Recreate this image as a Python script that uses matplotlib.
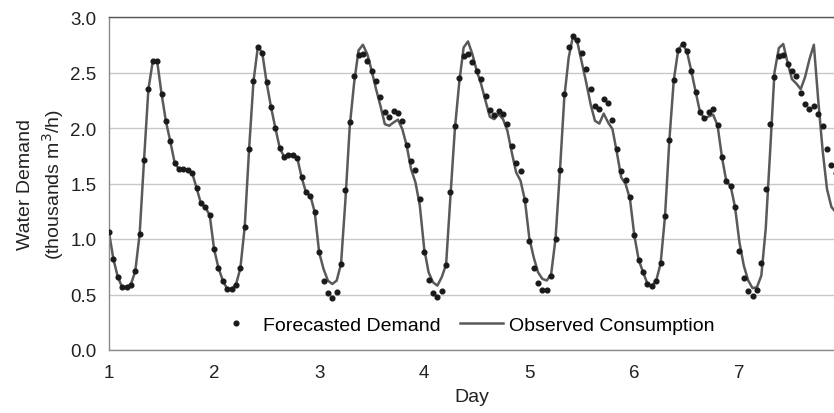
import numpy as np
import matplotlib
matplotlib.use("Agg")
import matplotlib.pyplot as plt

plt.rcParams['font.family'] = ['Liberation Sans', 'DejaVu Sans']

# Hourly values, hour 0 = start of day 1
forecast = [
    # day 1
    1.06, 0.82, 0.66, 0.565, 0.565, 0.59, 0.71, 1.045, 1.71, 2.35, 2.60, 2.60,
    2.31, 2.06, 1.88, 1.685, 1.63, 1.63, 1.62, 1.595, 1.46, 1.32, 1.285, 1.215,
    # day 2
    0.91, 0.74, 0.625, 0.55, 0.55, 0.59, 0.735, 1.11, 1.81, 2.42, 2.73, 2.68,
    2.41, 2.19, 2.00, 1.82, 1.74, 1.76, 1.76, 1.73, 1.555, 1.42, 1.39, 1.24,
    # day 3
    0.88, 0.625, 0.515, 0.47, 0.525, 0.775, 1.445, 2.05, 2.47, 2.655, 2.67, 2.60,
    2.51, 2.42, 2.275, 2.145, 2.10, 2.15, 2.135, 2.06, 1.85, 1.70, 1.625, 1.36,
    # day 4
    0.88, 0.635, 0.515, 0.475, 0.53, 0.77, 1.42, 2.02, 2.446, 2.645, 2.665, 2.595,
    2.515, 2.44, 2.287, 2.16, 2.116, 2.15, 2.125, 2.04, 1.837, 1.684, 1.61, 1.35,
    # day 5
    0.983, 0.74, 0.608, 0.54, 0.54, 0.67, 1.004, 1.62, 2.31, 2.728, 2.83, 2.794,
    2.674, 2.536, 2.35, 2.197, 2.173, 2.26, 2.224, 2.074, 1.807, 1.615, 1.535, 1.38,
    # day 6
    1.04, 0.815, 0.70, 0.596, 0.578, 0.626, 0.78, 1.205, 1.894, 2.43, 2.70, 2.758,
    2.69, 2.515, 2.326, 2.143, 2.086, 2.143, 2.167, 2.023, 1.74, 1.52, 1.475, 1.285,
    # day 7
    0.893, 0.65, 0.536, 0.485, 0.539, 0.782, 1.447, 2.04, 2.458, 2.65, 2.656, 2.578,
    2.518, 2.464, 2.314, 2.212, 2.167, 2.197, 2.125, 2.014, 1.813, 1.669, 1.594,
]

observed = [
    # day 1
    1.06, 0.82, 0.66, 0.565, 0.565, 0.59, 0.71, 1.045, 1.71, 2.35, 2.60, 2.60,
    2.31, 2.06, 1.88, 1.685, 1.63, 1.63, 1.62, 1.595, 1.46, 1.32, 1.285, 1.215,
    # day 2
    0.91, 0.74, 0.625, 0.55, 0.55, 0.59, 0.735, 1.11, 1.81, 2.42, 2.73, 2.68,
    2.41, 2.19, 2.00, 1.82, 1.74, 1.76, 1.76, 1.73, 1.555, 1.42, 1.39, 1.24,
    # day 3
    0.88, 0.73, 0.625, 0.595, 0.625, 0.776, 1.35, 2.02, 2.41, 2.70, 2.75, 2.665,
    2.515, 2.35, 2.20, 2.035, 2.02, 2.05, 2.075, 1.99, 1.84, 1.63, 1.51, 1.30,
    # day 4
    0.91, 0.70, 0.61, 0.58, 0.656, 0.77, 1.39, 1.99, 2.41, 2.725, 2.78, 2.665,
    2.515, 2.395, 2.245, 2.10, 2.08, 2.125, 2.08, 1.975, 1.78, 1.60, 1.525, 1.35,
    # day 5
    1.01, 0.836, 0.70, 0.64, 0.626, 0.686, 1.004, 1.615, 2.275, 2.635, 2.83, 2.77,
    2.59, 2.41, 2.215, 2.065, 2.04, 2.13, 2.05, 1.99, 1.78, 1.555, 1.495, 1.36,
    # day 6
    1.03, 0.81, 0.70, 0.596, 0.578, 0.626, 0.78, 1.205, 1.894, 2.43, 2.70, 2.758,
    2.69, 2.515, 2.326, 2.143, 2.086, 2.105, 2.12, 2.023, 1.74, 1.52, 1.475, 1.286,
    # day 7
    0.97, 0.76, 0.626, 0.557, 0.566, 0.67, 1.09, 1.78, 2.5, 2.72, 2.757, 2.59,
    2.44, 2.40, 2.35, 2.46, 2.62, 2.75, 2.25, 1.80, 1.45, 1.29, 1.24,
]

day_ticks = [1, 2, 3, 4, 5, 6, 7]
y_ticks = [0.0, 0.5, 1.0, 1.5, 2.0, 2.5, 3.0]

x_f = 1 + np.arange(len(forecast)) / 24.0
x_o = 1 + np.arange(len(observed)) / 24.0

fig = plt.figure(figsize=(8.34, 4.14), dpi=100)
ax = fig.add_axes([109/834, 63/414, 1 - 109/834, (351-18)/414])

ax.grid(axis='y', color='#c8c8c8', linewidth=1.0)
ax.set_axisbelow(True)

ax.plot(x_o, observed, color='#5a5a5a', linewidth=1.8, label='Observed Consumption', zorder=2)
ax.plot(x_f, forecast, linestyle='none', marker='o', markersize=3.4, color='#1a1a1a',
        label='Forecasted Demand', zorder=3)

ax.set_xlim(1, 7.9)
ax.set_ylim(0, 3.0)
ax.set_xticks(day_ticks)
ax.set_yticks(y_ticks)
ax.set_yticklabels([f"{v:.1f}" for v in y_ticks])
ax.tick_params(axis='both', length=0, labelsize=13.5, colors='#222222')
ax.tick_params(axis='x', pad=10)
ax.tick_params(axis='y', pad=9)

for side in ['left', 'bottom', 'top']:
    ax.spines[side].set_color('#8a8a8a')
    ax.spines[side].set_linewidth(1.0)
ax.spines['top'].set_color('#555555')
ax.spines['right'].set_visible(False)

ax.set_xlabel('Day', fontsize=14, color='#222222', labelpad=5)
ax.set_ylabel('Water Demand\n(thousands m$^3$/h)', fontsize=14, color='#222222',
              labelpad=3, linespacing=1.3)

handles, labels = ax.get_legend_handles_labels()
leg = ax.legend([handles[1], handles[0]], [labels[1], labels[0]], loc='lower center',
                ncol=2, frameon=False, fontsize=14, bbox_to_anchor=(0.49, -0.005),
                handlelength=2.2, columnspacing=1.0, handletextpad=0.3)

fig.savefig('out.png', dpi=100)
